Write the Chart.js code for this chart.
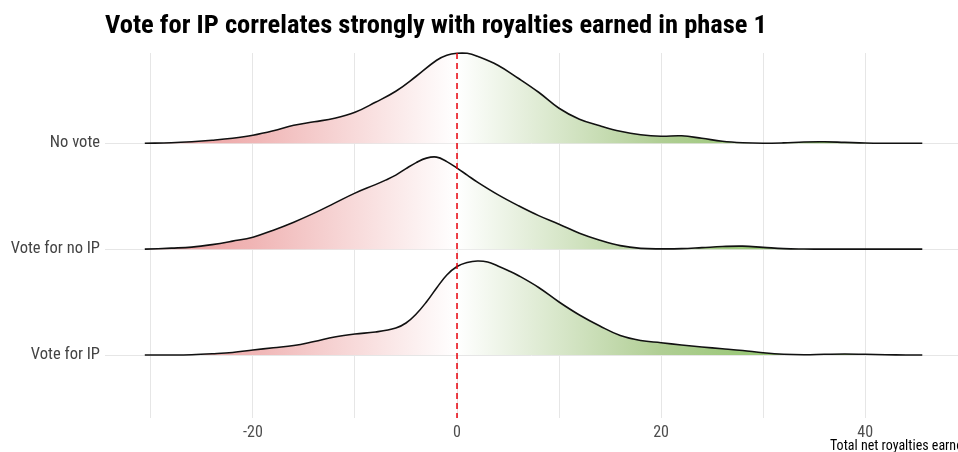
<!DOCTYPE html>
<html>
<head>
<meta charset="utf-8">
<script src="https://cdn.jsdelivr.net/npm/chart.js@4"></script>
<style>
  html, body { margin: 0; padding: 0; background: #fff; }
  #wrap { width: 958px; height: 452px; position: relative; }
</style>
</head>
<body>
<div id="wrap"><canvas id="ridges"></canvas></div>
<script>
// Ridge categories, bottom to top
const categories = ["Vote for IP", "Vote for no IP", "No vote"];

// Density curves (x = royalties, h = ridge height in px of a 105.8px ridge)
const xVoteIP = [-30.6, -28, -26, -24, -22, -20, -18, -16, -14, -12, -10, -8, -6, -5, -4, -3, -2, -1, 0, 1, 2, 3, 4, 5, 6, 8, 10, 12, 14, 16, 18, 20, 22, 24, 26, 28, 30, 32, 34, 36, 38, 40, 42, 44, 45.6];
const hVoteIP = [0, 0, 0.3, 1.2, 2.5, 5, 7.3, 9.5, 13.5, 18, 21, 23, 27, 32, 41, 53, 67, 80, 88.5, 92.5, 94, 93, 89, 84.5, 79.5, 67.5, 53, 40, 29, 19.5, 14.5, 12.3, 10, 8, 6.3, 4.5, 2.3, 0.8, 0.3, 0.7, 1, 0.7, 0.3, 0, 0];

const xVoteNoIP = [-30.6, -28, -26, -24, -22, -20, -18, -16, -14, -12, -10, -8, -7, -6, -5, -4, -3, -2, -1, 0, 1, 2, 4, 6, 8, 10, 12, 14, 16, 18, 20, 22, 24, 26, 28, 30, 32, 34, 36, 45.6];
const hVoteNoIP = [0, 1, 2, 4.5, 8, 12, 19, 27, 36, 46, 56, 64.5, 69, 74, 80.5, 86.5, 91, 92, 87.5, 81, 74, 67, 54.5, 43.5, 33.5, 25, 16, 9, 3.5, 0.8, 0.3, 0.5, 1.5, 2.6, 3, 1.8, 0.5, 0.1, 0, 0];

const xNoVote = [-30.6, -28, -26, -24, -22, -20, -18, -16, -14, -12, -10, -8, -6, -4, -2, -1, 0, 1, 2, 4, 6, 8, 10, 12, 14, 16, 18, 20, 22, 24, 26, 28, 30, 32, 34, 36, 38, 40, 42, 44, 45.6];
const hNoVote = [0, 0.5, 1.5, 3, 5, 8, 12.5, 18, 21.5, 25, 31, 41, 52, 67, 83, 88, 90, 90, 87, 78, 65, 51, 35, 24, 17.5, 12, 8.5, 7, 7.5, 5, 2, 0.5, 0, 0.4, 1.3, 1.5, 0.9, 0.3, 0.05, 0, 0];

const xGridValues = [-30, -20, -10, 0, 10, 20, 30, 40];
const ridgeHeight = 105.8;

const seriesX = [xVoteIP, xVoteNoIP, xNoVote];
const seriesH = [hVoteIP, hVoteNoIP, hNoVote];

const fontFamily = "'Roboto Condensed', 'Liberation Sans Narrow', Roboto, sans-serif";

// horizontal red -> white -> green fill, in data units
function ridgeFill(context) {
  const chart = context.chart;
  if (!chart.chartArea) return "#fff";
  const xs = chart.scales.x;
  const p0 = xs.getPixelForValue(-40);
  const p1 = xs.getPixelForValue(45);
  const g = chart.ctx.createLinearGradient(p0, 0, p1, 0);
  const stop = (v) => (v + 40) / 85;
  g.addColorStop(0, "#e47a7a");
  g.addColorStop(stop(-20), "#f0b5b5");
  g.addColorStop(stop(0), "#ffffff");
  g.addColorStop(stop(20), "#b0ce94");
  g.addColorStop(1, "#72bd44");
  return g;
}

const datasets = categories.map((name, i) => ({
  label: name,
  data: seriesX[i].map((x, j) => ({ x: x, y: i + 1 + seriesH[i][j] / ridgeHeight })),
  borderColor: "#111",
  borderWidth: 1.6,
  pointRadius: 0,
  tension: 0.4,
  fill: { value: i + 1 },
  backgroundColor: ridgeFill,
  clip: false,
})).reverse();

const decorations = {
  id: "decorations",
  afterDatasetsDraw(chart) {
    const { ctx, chartArea } = chart;
    const x0 = chart.scales.x.getPixelForValue(0);
    ctx.save();
    ctx.strokeStyle = "#e8000b";
    ctx.lineWidth = 1.5;
    ctx.setLineDash([6, 4]);
    ctx.beginPath();
    ctx.moveTo(x0, chartArea.top);
    ctx.lineTo(x0, chartArea.bottom);
    ctx.stroke();
    ctx.restore();
  },
  afterDraw(chart) {
    const { ctx } = chart;
    ctx.save();
    ctx.fillStyle = "#000";
    ctx.textBaseline = "alphabetic";
    ctx.textAlign = "left";
    ctx.font = "bold 26.5px " + fontFamily;
    ctx.fillText("Vote for IP correlates strongly with royalties earned in phase 1", 105, 33);
    ctx.font = "14px " + fontFamily;
    ctx.fillText("Total net royalties earned", 830, 450);
    ctx.restore();
  },
};

new Chart(document.getElementById("ridges"), {
  type: "line",
  data: { datasets: datasets },
  options: {
    responsive: true,
    maintainAspectRatio: false,
    animation: false,
    layout: { padding: { top: 53, right: 0, left: 0, bottom: 0 } },
    plugins: { legend: { display: false }, tooltip: { enabled: false } },
    scales: {
      x: {
        type: "linear",
        min: -34.5,
        max: 49.1,
        afterBuildTicks: (scale) => {
          scale.ticks = xGridValues.map((v) => ({ value: v }));
        },
        afterFit: (scale) => { scale.height = 34; },
        grid: { color: "#e6e6e6", lineWidth: 1, drawTicks: false },
        border: { display: false },
        ticks: {
          padding: 5,
          color: "#4d4d4d",
          font: { family: fontFamily, size: 16 },
          maxRotation: 0,
          callback: (v) => (v % 20 === 0 ? String(v) : ""),
        },
      },
      y: {
        type: "linear",
        min: 0.405,
        max: 3.853,
        afterBuildTicks: (scale) => {
          scale.ticks = categories.map((c, i) => ({ value: i + 1 }));
        },
        afterFit: (scale) => { scale.width = 105; },
        grid: { color: "#e6e6e6", lineWidth: 1, drawTicks: false },
        border: { display: false },
        ticks: {
          padding: 5,
          color: "#444",
          font: { family: fontFamily, size: 16.5 },
          callback: (v) => categories[v - 1] || "",
        },
      },
    },
  },
  plugins: [decorations],
});
</script>
</body>
</html>
